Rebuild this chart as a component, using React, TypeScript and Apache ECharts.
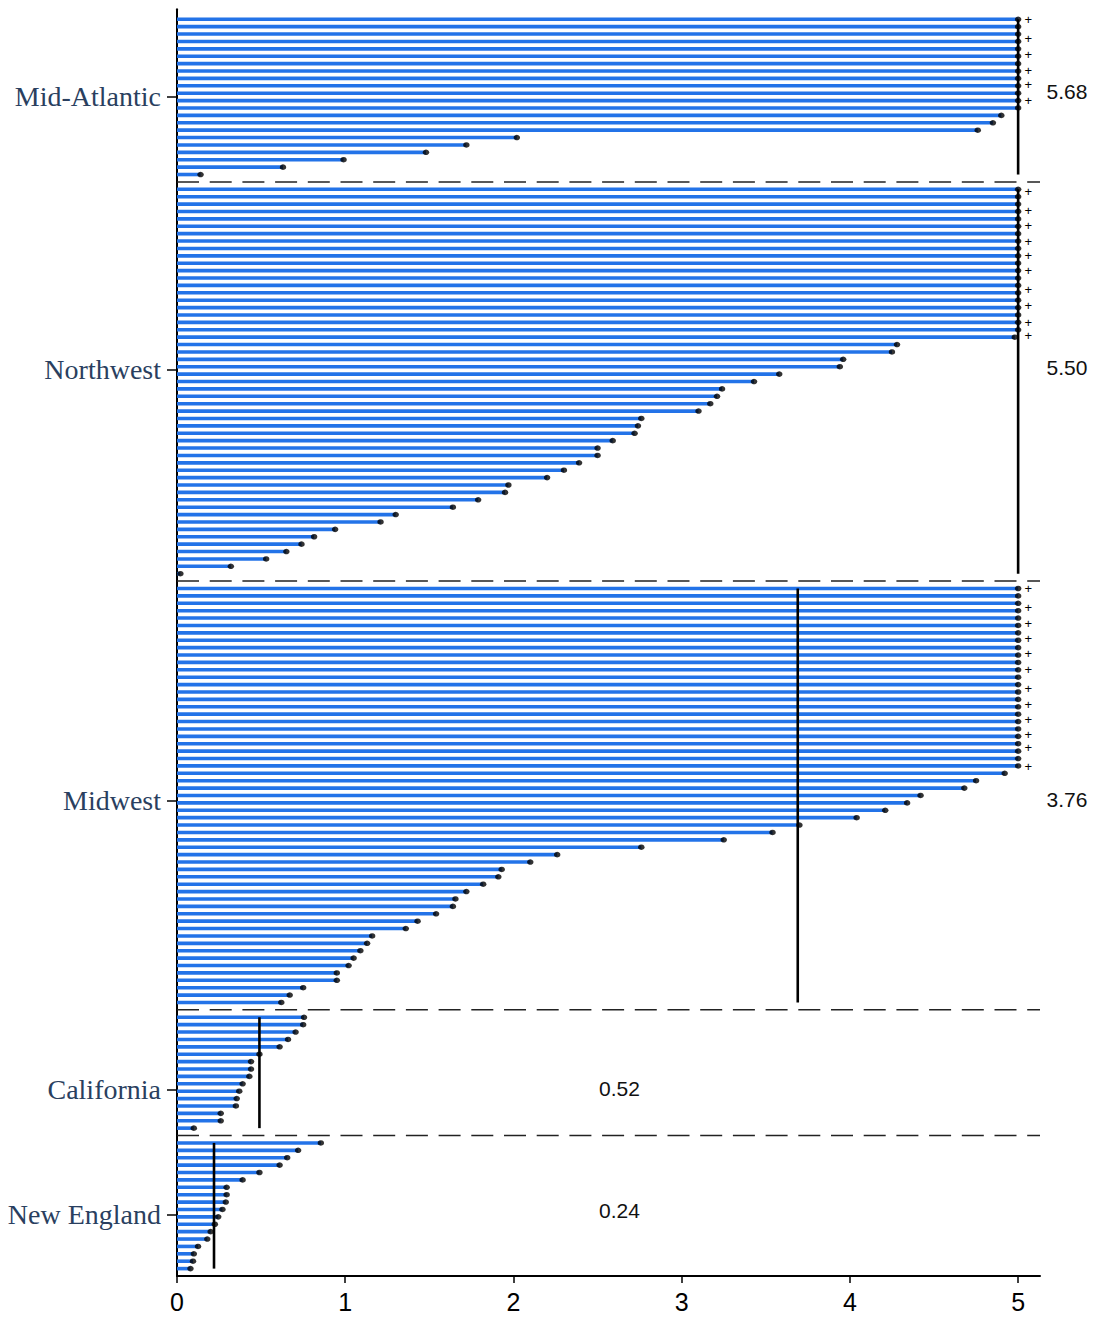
import React, { useEffect, useRef } from "react";
import * as echarts from "echarts";

// ---- data ----
const groups = ["Mid-Atlantic", "Northwest", "Midwest", "California", "New England"];

const midAtlantic = [5, 5, 5, 5, 5, 5, 5, 5, 5, 5, 5, 5, 5, 4.9, 4.85, 4.76, 2.02, 1.72, 1.48, 0.99, 0.63, 0.14];
const northwest = [
  5, 5, 5, 5, 5, 5, 5, 5, 5, 5, 5, 5, 5, 5, 5, 5, 5, 5, 5, 5,
  4.98, 4.28, 4.25, 3.96, 3.94, 3.58, 3.43, 3.24, 3.21, 3.17, 3.1, 2.76, 2.74, 2.72, 2.59, 2.5, 2.5,
  2.39, 2.3, 2.2, 1.97, 1.95, 1.79, 1.64, 1.3, 1.21, 0.94, 0.815, 0.74, 0.65, 0.53, 0.32, 0.02,
];
const midwest = [
  5, 5, 5, 5, 5, 5, 5, 5, 5, 5, 5, 5, 5, 5, 5, 5, 5, 5, 5, 5, 5, 5, 5, 5, 5,
  4.92, 4.75, 4.68, 4.42, 4.34, 4.21, 4.04, 3.7, 3.54, 3.25,
  2.76, 2.26, 2.1, 1.93, 1.91, 1.82,
  1.72, 1.655, 1.64, 1.54, 1.43, 1.36, 1.16, 1.13, 1.09, 1.05, 1.02, 0.95, 0.95, 0.75, 0.67, 0.62,
];
const california = [0.755, 0.75, 0.705, 0.66, 0.61, 0.49, 0.44, 0.44, 0.43, 0.39, 0.37, 0.355, 0.35, 0.26, 0.26, 0.1];
const newEngland = [0.855, 0.72, 0.655, 0.61, 0.49, 0.39, 0.295, 0.295, 0.29, 0.27, 0.245, 0.225, 0.2, 0.18, 0.125, 0.1, 0.095, 0.08];

const groupValues = [midAtlantic, northwest, midwest, california, newEngland];
const meanLabels = ["5.68", "5.50", "3.76", "0.52", "0.24"];
const meanLineX = [5, 5, 3.69, 0.49, 0.22];
const meanLabelX = [5.29, 5.29, 5.29, 2.63, 2.63];
const meanLabelRow = [9.83, 47.1, 105.6, 144.6, 161.2];
const groupTickRow = [10.5, 47.4, 105.7, 144.8, 161.7];
// "+" overflow markers (row positions)
const plusRows = [
  0.09, 2.66, 4.73, 6.9, 8.89, 11.0,
  23.32, 25.8, 27.92, 30.08, 32.02, 34.05, 36.62, 38.78, 40.99, 42.84,
  77.06, 79.59, 81.79, 83.78, 85.81, 88.02, 90.49, 92.65, 94.78, 96.71, 98.47, 101.04,
];
const plusX = 5.06;
const xTicks = [0, 1, 2, 3, 4, 5];
const CAP = 5;
const X_MAX = 5.13;

// ---- layout built from the data ----
const bars: number[][] = [];
const sepRows: number[][] = [];
const meanLines: number[][] = [];
let cursor = 0;
groupValues.forEach((vals, g) => {
  const start = cursor;
  vals.forEach((v, i) => bars.push([v, start + i]));
  const end = start + vals.length - 1;
  meanLines.push([meanLineX[g], start, end]);
  cursor = end + 1;
  if (g < groupValues.length - 1) {
    sepRows.push([0, cursor]);
    cursor += 1;
  }
});

const SANS = '"Liberation Sans", Arial, Helvetica, sans-serif';
const SERIF = '"Liberation Serif", "Times New Roman", Times, serif';

export default function App() {
  const ref = useRef<HTMLDivElement>(null);
  useEffect(() => {
    document.body.style.margin = "0";
    const chart = echarts.init(ref.current!, null, { renderer: "svg" });
    chart.setOption({
      animation: false,
      backgroundColor: "#ffffff",
      grid: { left: 177, top: 9.3, width: 863, height: 1266.7, containLabel: false },
      xAxis: {
        type: "value",
        min: 0,
        max: X_MAX,
        interval: 1,
        axisLine: { show: true, onZero: false, lineStyle: { color: "#000", width: 2 } },
        axisTick: { show: true, length: 7, customValues: xTicks, lineStyle: { color: "#000", width: 1.5 } },
        axisLabel: { customValues: xTicks, color: "#000", fontSize: 25, fontFamily: SANS, margin: 13 },
        splitLine: { show: false },
      },
      yAxis: {
        type: "value",
        inverse: true,
        min: -1.35,
        max: 170,
        axisLine: { show: true, onZero: false, lineStyle: { color: "#000", width: 2 } },
        axisTick: { show: true, length: 10, customValues: groupTickRow, lineStyle: { color: "#000", width: 1.5 } },
        axisLabel: {
          customValues: groupTickRow,
          formatter: (v: number) => {
            let best = 0;
            groupTickRow.forEach((r, i) => {
              if (Math.abs(r - v) < Math.abs(groupTickRow[best] - v)) best = i;
            });
            return groups[best];
          },
          color: "#2a3f5f",
          fontSize: 28,
          fontFamily: SERIF,
          margin: 16,
        },
        splitLine: { show: false },
      },
      series: [
        {
          type: "custom",
          z: 1,
          data: bars,
          encode: { x: 0, y: 1 },
          renderItem: (_p: any, api: any) => {
            const v = Math.min(api.value(0), CAP);
            const r = api.value(1);
            const a = api.coord([0, r]);
            const b = api.coord([v, r]);
            return {
              type: "rect",
              shape: { x: a[0], y: a[1] - 1.8, width: b[0] - a[0], height: 3.6 },
              style: { fill: "#2373E8" },
            };
          },
        },
        {
          type: "custom",
          z: 2,
          data: sepRows,
          encode: { x: 0, y: 1 },
          renderItem: (_p: any, api: any) => {
            const r = api.value(1);
            const a = api.coord([0, r]);
            const b = api.coord([X_MAX, r]);
            return {
              type: "line",
              shape: { x1: a[0], y1: a[1], x2: b[0], y2: b[1] },
              style: { stroke: "#222", lineWidth: 1.5, lineDash: [22, 10.7] },
            };
          },
        },
        {
          type: "custom",
          z: 3,
          data: meanLines,
          encode: { x: 0, y: 1 },
          renderItem: (_p: any, api: any) => {
            const x = api.value(0);
            const a = api.coord([x, api.value(1)]);
            const b = api.coord([x, api.value(2)]);
            return {
              type: "line",
              shape: { x1: a[0], y1: a[1], x2: b[0], y2: b[1] },
              style: { stroke: "#000", lineWidth: 2.6 },
            };
          },
        },
        {
          type: "scatter",
          z: 4,
          symbol: "circle",
          symbolSize: [6.5, 5.5],
          itemStyle: { color: "#000" },
          data: bars.map((b) => [Math.min(b[0], CAP), b[1]]),
        },
        {
          type: "custom",
          z: 5,
          data: plusRows.map((r) => [plusX, r]),
          encode: { x: 0, y: 1 },
          renderItem: (_p: any, api: any) => {
            const p = api.coord([api.value(0), api.value(1)]);
            return {
              type: "text",
              x: p[0],
              y: p[1],
              style: {
                text: "+",
                fill: "#000",
                font: `13px ${SANS}`,
                lineHeight: 10,
                align: "center",
                verticalAlign: "middle",
              },
            };
          },
        },
        {
          type: "custom",
          z: 5,
          clip: false,
          data: meanLabelX.map((x, i) => [x, meanLabelRow[i], i]),
          encode: { x: 0, y: 1 },
          renderItem: (_p: any, api: any) => {
            const p = api.coord([api.value(0), api.value(1)]);
            return {
              type: "text",
              x: p[0],
              y: p[1],
              style: {
                text: meanLabels[api.value(2)],
                fill: "#111",
                font: `21px ${SANS}`,
                align: "center",
                verticalAlign: "middle",
              },
            };
          },
        },
      ],
    });
    return () => chart.dispose();
  }, []);
  return <div ref={ref} style={{ width: 1094, height: 1318 }} />;
}
